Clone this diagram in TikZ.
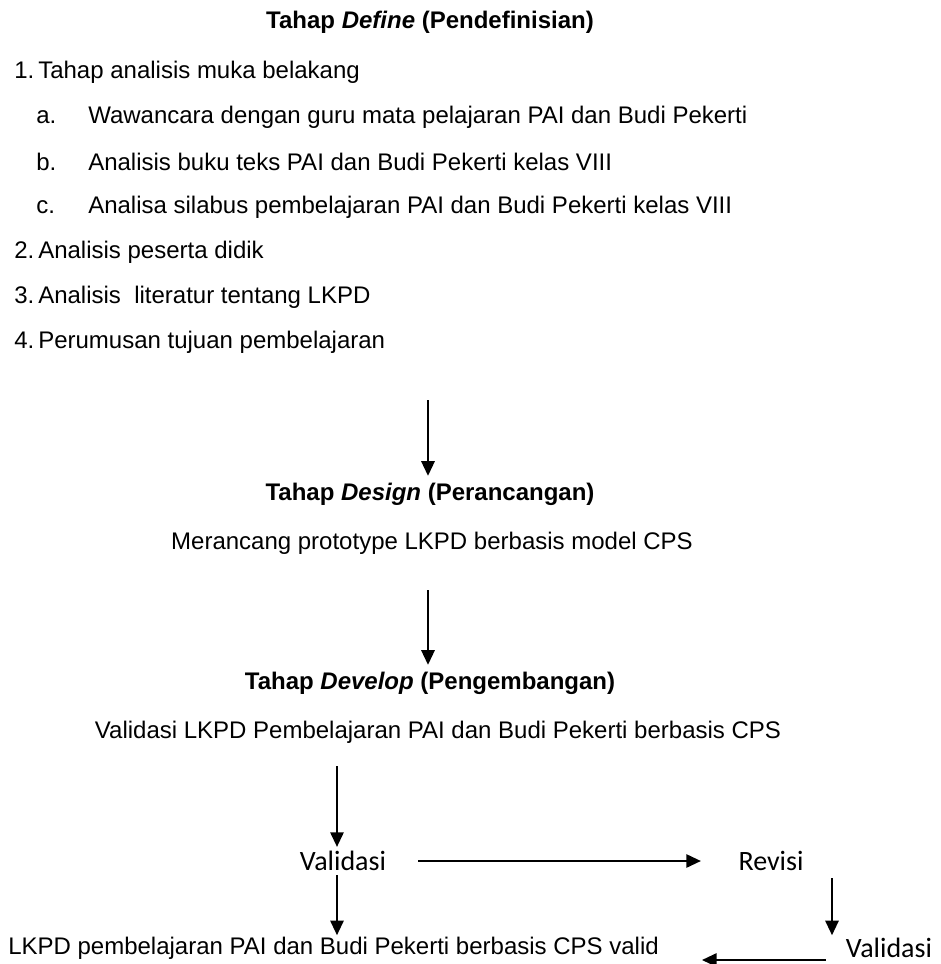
\documentclass[tikz,border=0pt]{standalone}
\usepackage{fontspec}
\setmainfont{Liberation Sans}
\newfontfamily\calibrifont{Carlito}
\usetikzlibrary{arrows.meta, positioning}

\begin{document}
\begin{tikzpicture}[
    x=0.75pt, y=-0.75pt,
    title/.style={font=\fontsize{18}{21}\selectfont\bfseries, inner sep=0pt},
    item/.style={font=\fontsize{18}{21}\selectfont, anchor=west, inner sep=0pt},
    body/.style={font=\fontsize{18}{21}\selectfont, inner sep=0pt},
    valnode/.style={font=\calibrifont\fontsize{21}{25}\selectfont, inner sep=0pt},
    arrow/.style={-{Triangle[length=11pt, width=10pt]}, line width=1.5pt},
]
\useasboundingbox (0,0) rectangle (941,964);

% Define
\node[title] (define) at (430, 22) {Tahap \textit{Define} (Pendefinisian)};
\node[item] (i1) at (14, 72) {1.\,Tahap analisis muka belakang};
\node[item] (ia) at (36, 117) {a.};
\node[item] (ta) at (88, 117) {Wawancara dengan guru mata pelajaran PAI dan Budi Pekerti};
\node[item] (ib) at (36, 162) {b.};
\node[item] (tb) at (88, 162) {Analisis buku teks PAI dan Budi Pekerti kelas VIII};
\node[item] (ic) at (36, 207) {c.};
\node[item] (tc) at (88, 207) {Analisa silabus pembelajaran PAI dan Budi Pekerti kelas VIII};
\node[item] (i2) at (14, 252) {2.\,Analisis peserta didik};
\node[item] (i3) at (14, 297) {3.\,Analisis \ literatur tentang LKPD};
\node[item] (i4) at (14, 342) {4.\,Perumusan tujuan pembelajaran};

% Design
\coordinate (a1) at (428, 400);
\node[title] (design) at (430, 494) {Tahap \textit{Design} (Perancangan)};
\node[body] (proto) at (432, 543) {Merancang prototype LKPD berbasis model CPS};
\draw[arrow] (a1) -- ([yshift=5pt]design.north -| a1);

% Develop
\coordinate (a2) at (428, 590);
\node[title] (develop) at (430, 683) {Tahap \textit{Develop} (Pengembangan)};
\node[body] (valid) at (438, 732) {Validasi LKPD Pembelajaran PAI dan Budi Pekerti berbasis CPS};
\draw[arrow] (a2) -- ([yshift=5pt]develop.north -| a2);

% validation loop
\coordinate (a3) at (337, 766);
\node[valnode] (val1) at (343, 861) {Validasi};
\node[valnode] (rev) at (771, 861) {Revisi};
\node[valnode] (val2) at (889, 948) {Validasi};
\node[item] (final) at (8, 948) {LKPD pembelajaran PAI dan Budi Pekerti berbasis CPS valid};
\coordinate (a4) at (832, 878);
\coordinate (a5) at (702, 960);

\draw[arrow] (a3) -- ([yshift=3pt]val1.north -| a3);
\draw[arrow] ([xshift=24pt]val1.east) -- ([xshift=-28pt]rev.west);
\draw[arrow] (a4) -- ([yshift=2pt]val2.north -| a4);
\draw[arrow] ([yshift=-3pt]val1.south -| a3) -- ([yshift=1pt]final.north -| a3);
\draw[arrow] ([xshift=-15pt]a5 -| val2.west) -- (a5);

\end{tikzpicture}
\end{document}
